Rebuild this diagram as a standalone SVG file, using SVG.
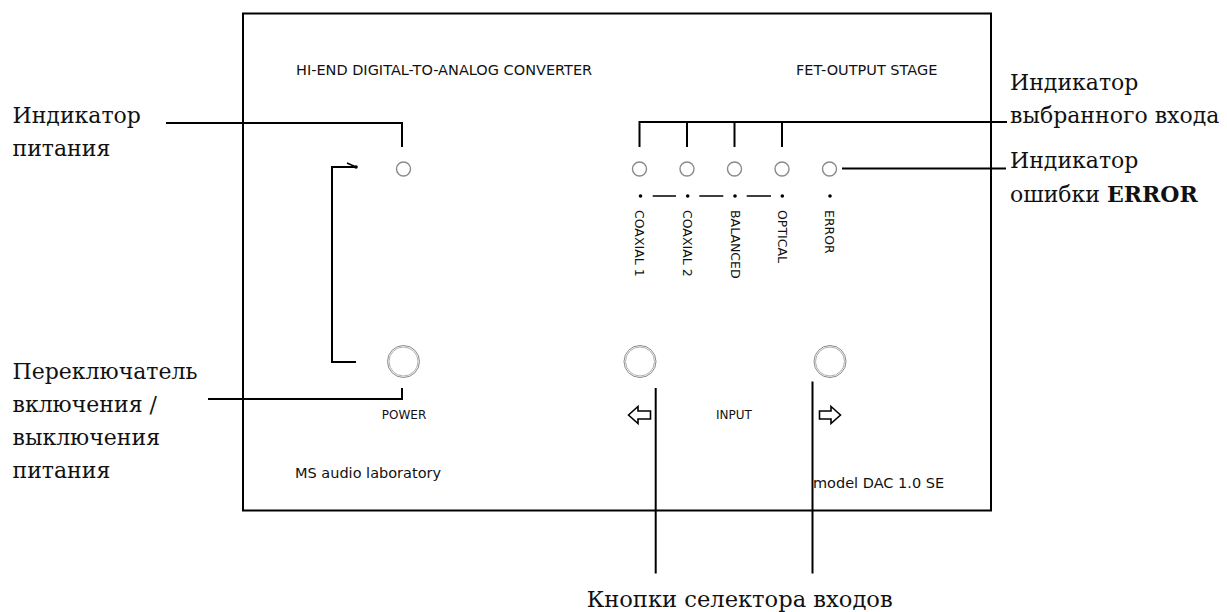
<svg xmlns="http://www.w3.org/2000/svg" width="1227" height="612" viewBox="0 0 1227 612">
<style>
  .panel{fill:#fff;stroke:#000;stroke-width:2}
  .lead{fill:none;stroke:#000;stroke-width:2}
  .thin{fill:none;stroke:#000;stroke-width:1.6}
  .led{fill:none;stroke:#8a8a8a;stroke-width:1.4}
  .btn-o{fill:none;stroke:#8a8a8a;stroke-width:1}
  .btn-i{fill:none;stroke:#b0b0b0;stroke-width:1}
  .sans{font-family:"DejaVu Sans","Liberation Sans",sans-serif;fill:#111}
  .big{font-size:14.5px}
  .small{font-size:12px}
  .vert{font-size:12.5px}
  .serif{font-family:"DejaVu Serif","Liberation Serif",serif;font-size:22px;fill:#111}
  .arrow{fill:#fff;stroke:#000;stroke-width:1.6;stroke-linejoin:miter}
</style>
<rect width="1227" height="612" fill="#fff"/>
<g id="panel">
  <rect class="panel" x="243" y="13.5" width="748" height="497"/>
  <text class="sans big" x="296" y="75">HI-END DIGITAL-TO-ANALOG CONVERTER</text>
  <text class="sans big" x="796" y="75">FET-OUTPUT STAGE</text>
  <text class="sans big" x="295" y="478">MS audio laboratory</text>
  <text class="sans big" x="813" y="488">model DAC 1.0 SE</text>
</g>
<g id="power-led">
  <circle class="led" cx="403.5" cy="169" r="7"/>
</g>
<g id="input-leds">
  <circle class="led" cx="639.5" cy="169" r="7"/>
  <circle class="led" cx="687" cy="169" r="7"/>
  <circle class="led" cx="734.5" cy="169" r="7"/>
  <circle class="led" cx="782" cy="169" r="7"/>
  <circle class="led" cx="829.5" cy="169" r="7"/>
</g>
<g id="input-labels">
  <circle cx="640.5" cy="196" r="1.8"/>
  <circle cx="687.7" cy="196" r="1.8"/>
  <circle cx="735" cy="196" r="1.8"/>
  <circle cx="782.3" cy="196" r="1.8"/>
  <circle cx="830" cy="196" r="1.8"/>
  <path class="thin" d="M652.7,196H676M699.3,196H723.3M746.7,196H771"/>
  <text class="sans vert" transform="translate(635,210) rotate(90)">COAXIAL 1</text>
  <text class="sans vert" transform="translate(683,210) rotate(90)">COAXIAL 2</text>
  <text class="sans vert" transform="translate(730.5,210) rotate(90)">BALANCED</text>
  <text class="sans vert" transform="translate(777.5,210) rotate(90)">OPTICAL</text>
  <text class="sans vert" transform="translate(825,210) rotate(90)">ERROR</text>
</g>
<g id="power-switch">
  <circle class="btn-o" cx="403.5" cy="361.5" r="16"/>
  <circle class="btn-i" cx="403.5" cy="361.5" r="14.5"/>
  <text class="sans small" x="404" y="419" text-anchor="middle">POWER</text>
</g>
<g id="input-left">
  <circle class="btn-o" cx="640" cy="361.5" r="16"/>
  <circle class="btn-i" cx="640" cy="361.5" r="14.5"/>
  <polygon class="arrow" points="628.5,415 638,406.5 638,411 650.5,411 650.5,419 638,419 638,423.5"/>
</g>
<g id="input-label">
  <text class="sans small" x="734" y="419" text-anchor="middle">INPUT</text>
</g>
<g id="input-right">
  <circle class="btn-o" cx="830" cy="361.5" r="16"/>
  <circle class="btn-i" cx="830" cy="361.5" r="14.5"/>
  <polygon class="arrow" points="840.5,415 831,406.5 831,411 819.5,411 819.5,419 831,419 831,423.5"/>
</g>
<g id="labels">
  <text class="serif" x="12.5" y="122.5">Индикатор</text>
  <text class="serif" x="12.5" y="155.8">питания</text>
  <text class="serif" x="12.5" y="378.5">Переключатель</text>
  <text class="serif" x="12.5" y="411.8">включения /</text>
  <text class="serif" x="12.5" y="445.1">выключения</text>
  <text class="serif" x="12.5" y="478.4">питания</text>
  <text class="serif" x="1010" y="89.5">Индикатор</text>
  <text class="serif" x="1010" y="122.8">выбранного входа</text>
  <text class="serif" x="1010" y="168.3">Индикатор</text>
  <text class="serif" x="1010" y="201.6">ошибки <tspan font-weight="bold">ERROR</tspan></text>
  <text class="serif" x="586.7" y="606.5" style="font-size:22.6px">Кнопки селектора входов</text>
</g>
<g id="connectors">
  <path class="lead" d="M166,123H402V147"/>
  <path class="lead" d="M208,399H402V388"/>
  <path class="lead" d="M356,167H332V362H356"/>
  <circle cx="356" cy="167" r="1.8"/>
  <path class="thin" d="M347,163L356,167"/>
  <path class="lead" d="M639.5,122H1007M639.5,121V147M687,122V147M734.5,122V147M782,122V147"/>
  <path class="lead" d="M842,168.5H1006"/>
  <path class="lead" d="M655.7,388V573.5"/>
  <path class="lead" d="M812.5,381.5V573.5"/>
</g>
</svg>
